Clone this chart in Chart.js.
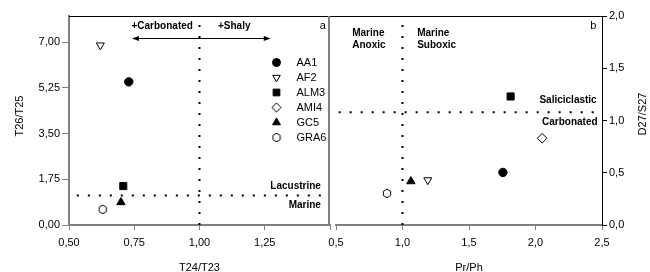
<!DOCTYPE html>
<html><head><meta charset="utf-8">
<script src="https://cdn.jsdelivr.net/npm/chart.js@4/dist/chart.umd.min.js"></script>
<style>
html,body{margin:0;padding:0;background:#fff;}
#wrap{position:relative;width:650px;height:272px;overflow:hidden;background:#fff;}
#c1{position:absolute;left:0;top:0;}
#c2{position:absolute;left:300px;top:0;}
</style></head><body>
<div id="wrap"><canvas id="c1" width="336" height="272"></canvas><canvas id="c2" width="350" height="272"></canvas></div>
<script>
// ---- data ----
const samples = ['AA1', 'AF2', 'ALM3', 'AMI4', 'GC5', 'GRA6'];
// panel a : T24/T23 (x) vs T26/T25 (y); AMI4 not plotted
const t24t23 = [0.729, 0.620, 0.708, null, 0.699, 0.629];
const t26t25 = [5.48, 6.88, 1.49, null, 0.87, 0.60];
// panel b : Pr/Ph (x) vs D27/S27 (y)
const prPh   = [1.755, 1.19, 1.813, 2.05, 1.063, 0.883];
const d27s27 = [0.503, 0.43, 1.23, 0.83, 0.418, 0.303];

const xTicksA = [0.5, 0.75, 1.0, 1.25, 1.5];
const yTicksA = [0, 1.75, 3.5, 5.25, 7.0];
const xTicksB = [0.5, 1.0, 1.5, 2.0, 2.5];
const yTicksB = [0, 0.5, 1.0, 1.5, 2.0];

// threshold lines
const limitA = { x: 1.0, y: 1.13 };
const limitB = { x: 1.0, y: 1.08 };
// arrow in panel a: from, to, level
const arrowA = [0.741, 1.273, 7.14];

// ---- styles ----
const FONT = "'Liberation Sans', Arial, sans-serif";
function hexImg() {
  const c = document.createElement('canvas');
  c.width = 10; c.height = 11;
  const g = c.getContext('2d');
  g.fillStyle = '#fff'; g.strokeStyle = '#000'; g.lineWidth = 1;
  g.beginPath();
  for (let i = 0; i < 6; i++) {
    const a = Math.PI / 3 * i;
    const px = 5 + Math.sin(a) * 4.2, py = 5.5 - Math.cos(a) * 4.3;
    if (i === 0) g.moveTo(px, py); else g.lineTo(px, py);
  }
  g.closePath(); g.fill(); g.stroke();
  return c;
}
const HEX = hexImg();
const markStyle = {
  AA1:  { pointStyle: 'circle',   radius: 4.2, rotation: 0,   fill: '#000' },
  AF2:  { pointStyle: 'triangle', radius: 4.6, rotation: 180, fill: '#fff' },
  ALM3: { pointStyle: 'rect',     radius: 5,   rotation: 0,   fill: '#000' },
  AMI4: { pointStyle: 'rectRot',  radius: 4.8, rotation: 0,   fill: '#fff' },
  GC5:  { pointStyle: 'triangle', radius: 4.8, rotation: 0,   fill: '#000' },
  GRA6: { pointStyle: HEX,        radius: 5,   rotation: 0,   fill: '#fff' }
};

function pointSets(xs, ys) {
  const out = [];
  samples.forEach((name, i) => {
    if (xs[i] == null || ys[i] == null) return;
    const s = markStyle[name];
    out.push({
      label: name, type: 'scatter', order: 0,
      data: [{ x: xs[i], y: ys[i] }],
      pointStyle: s.pointStyle, pointRadius: s.radius, pointRotation: s.rotation,
      backgroundColor: s.fill, borderColor: '#000', borderWidth: 1
    });
  });
  return out;
}
function dotLine(pts) {
  return {
    label: '_line', type: 'scatter', showLine: true, order: 1,
    data: pts, pointRadius: 0, borderColor: '#000', borderWidth: 2,
    borderDash: [2, 9], fill: false
  };
}

function txt(ctx, s, x, y, align, font) {
  ctx.save();
  ctx.font = font; ctx.fillStyle = '#000';
  ctx.textAlign = align; ctx.textBaseline = 'middle';
  ctx.fillText(s, x, y);
  ctx.restore();
}
function vTitle(ctx, s, x, y) {
  ctx.save();
  ctx.translate(x, y); ctx.rotate(-Math.PI / 2);
  txt(ctx, s, 0, 0, 'center', '11px ' + FONT);
  ctx.restore();
}
function drawMark(ctx, name, x, y) {
  const s = markStyle[name];
  ctx.save();
  ctx.fillStyle = s.fill; ctx.strokeStyle = '#000'; ctx.lineWidth = 1;
  Chart.helpers.drawPoint(ctx, { pointStyle: s.pointStyle, radius: s.radius * 0.95, rotation: s.rotation, borderWidth: 1 }, x, y);
  ctx.restore();
}
const BOLD = 'bold 10px ' + FONT;
const NORM = '11px ' + FONT;

function commonScaleX(min, max, ticksArr, fmt, title) {
  return {
    type: 'linear', min: min, max: max,
    afterBuildTicks: s => { s.ticks = ticksArr.map(v => ({ value: v })); },
    ticks: { callback: fmt, font: { family: FONT, size: 11 }, color: '#000', padding: 6, maxRotation: 0, autoSkip: false },
    grid: { drawOnChartArea: false, drawTicks: true, tickLength: 5, color: '#808080', lineWidth: 1 },
    border: { color: '#808080', width: 2 },
    title: { display: true, text: title, font: { family: FONT, size: 11 }, color: '#000', padding: { top: 0, bottom: -3 } },
    afterFit: s => { s.height = 47; }
  };
}

// ---- panel a ----
const decorA = {
  id: 'decorA',
  afterDraw(chart) {
    const { ctx, chartArea: a, scales: { x, y } } = chart;
    ctx.save();
    // top border
    ctx.strokeStyle = '#000'; ctx.lineWidth = 1;
    ctx.beginPath(); ctx.moveTo(a.left, Math.round(a.top) + 0.5); ctx.lineTo(chart.width, Math.round(a.top) + 0.5); ctx.stroke();
    // separator
    ctx.strokeStyle = '#808080'; ctx.lineWidth = 2;
    ctx.beginPath(); ctx.moveTo(a.right - 1, a.top); ctx.lineTo(a.right - 1, a.bottom); ctx.stroke();
    // arrow
    const x1 = x.getPixelForValue(arrowA[0]), x2 = x.getPixelForValue(arrowA[1]), ay = Math.round(y.getPixelForValue(arrowA[2])) + 0.5;
    ctx.strokeStyle = '#000'; ctx.fillStyle = '#000'; ctx.lineWidth = 1;
    ctx.beginPath(); ctx.moveTo(x1 + 3, ay); ctx.lineTo(x2 - 3, ay); ctx.stroke();
    ctx.beginPath(); ctx.moveTo(x1, ay); ctx.lineTo(x1 + 7, ay - 2.5); ctx.lineTo(x1 + 7, ay + 2.5); ctx.closePath(); ctx.fill();
    ctx.beginPath(); ctx.moveTo(x2, ay); ctx.lineTo(x2 - 7, ay - 2.5); ctx.lineTo(x2 - 7, ay + 2.5); ctx.closePath(); ctx.fill();
    ctx.restore();
    // labels
    txt(ctx, '+Carbonated', x.getPixelForValue(0.857), y.getPixelForValue(7.61), 'center', BOLD);
    txt(ctx, '+Shaly', x.getPixelForValue(1.133), y.getPixelForValue(7.61), 'center', BOLD);
    txt(ctx, 'a', x.getPixelForValue(1.472), y.getPixelForValue(7.61), 'center', NORM);
    txt(ctx, 'Lacustrine', x.getPixelForValue(1.465), y.getPixelForValue(1.50), 'right', BOLD);
    txt(ctx, 'Marine', x.getPixelForValue(1.465), y.getPixelForValue(0.765), 'right', BOLD);
    vTitle(ctx, 'T26/T25', 20, 116);
    // legend
    samples.forEach((name, i) => {
      const ly = a.top + 46.5 + i * 15;
      drawMark(ctx, name, a.left + 207.5, ly);
      txt(ctx, name, a.left + 227.5, ly, 'left', NORM);
    });
  }
};

new Chart(document.getElementById('c1'), {
  type: 'scatter',
  data: {
    datasets: [
      ...pointSets(t24t23, t26t25),
      dotLine([{ x: limitA.x, y: 0 }, { x: limitA.x, y: 8 }]),
      dotLine([{ x: 0.53, y: limitA.y }, { x: 1.5, y: limitA.y }])
    ]
  },
  options: {
    responsive: false, animation: false, events: [],
    layout: { padding: { top: 16, left: 0, right: 0, bottom: 0 } },
    plugins: { legend: { display: false }, tooltip: { enabled: false } },
    scales: {
      x: commonScaleX(0.5, 1.5, xTicksA, v => (v === 1.5 ? '' : v.toFixed(2).replace('.', ',')), 'T24/T23'),
      y: {
        type: 'linear', position: 'left', min: 0, max: 8,
        afterBuildTicks: s => { s.ticks = yTicksA.map(v => ({ value: v })); },
        ticks: { callback: v => v.toFixed(2).replace('.', ','), font: { family: FONT, size: 11 }, color: '#000', padding: 2 },
        grid: { drawOnChartArea: false, drawTicks: true, tickLength: 7, color: '#808080', lineWidth: 1 },
        border: { color: '#808080', width: 2 },
        afterFit: s => { s.width = 69; }
      }
    }
  },
  plugins: [decorA]
});

// ---- panel b ----
const decorB = {
  id: 'decorB',
  afterDraw(chart) {
    const { ctx, chartArea: a, scales: { x, y } } = chart;
    ctx.save();
    ctx.strokeStyle = '#000'; ctx.lineWidth = 1;
    ctx.beginPath(); ctx.moveTo(a.left, Math.round(a.top) + 0.5); ctx.lineTo(a.right, Math.round(a.top) + 0.5); ctx.stroke();
    ctx.restore();
    txt(ctx, 'Marine', x.getPixelForValue(0.622), y.getPixelForValue(1.835), 'left', BOLD);
    txt(ctx, 'Anoxic', x.getPixelForValue(0.622), y.getPixelForValue(1.72), 'left', BOLD);
    txt(ctx, 'Marine', x.getPixelForValue(1.11), y.getPixelForValue(1.835), 'left', BOLD);
    txt(ctx, 'Suboxic', x.getPixelForValue(1.11), y.getPixelForValue(1.72), 'left', BOLD);
    txt(ctx, 'b', x.getPixelForValue(2.434), y.getPixelForValue(1.90), 'center', NORM);
    txt(ctx, 'Saliciclastic', x.getPixelForValue(2.46), y.getPixelForValue(1.195), 'right', BOLD);
    txt(ctx, 'Carbonated', x.getPixelForValue(2.467), y.getPixelForValue(0.984), 'right', BOLD);
    vTitle(ctx, 'D27/S27', 343, 114);
  }
};

new Chart(document.getElementById('c2'), {
  type: 'scatter',
  data: {
    datasets: [
      ...pointSets(prPh, d27s27),
      dotLine([{ x: limitB.x, y: 0 }, { x: limitB.x, y: 2 }]),
      dotLine([{ x: 0.52, y: limitB.y }, { x: 2.5, y: limitB.y }])
    ]
  },
  options: {
    responsive: false, animation: false, events: [],
    layout: { padding: { top: 16, left: 36, right: 0, bottom: 0 } },
    plugins: { legend: { display: false }, tooltip: { enabled: false } },
    scales: {
      x: commonScaleX(0.5, 2.5, xTicksB, v => v.toFixed(1).replace('.', ','), 'Pr/Ph'),
      y: {
        type: 'linear', position: 'right', min: 0, max: 2,
        afterBuildTicks: s => { s.ticks = yTicksB.map(v => ({ value: v })); },
        ticks: { callback: v => v.toFixed(1).replace('.', ','), font: { family: FONT, size: 11 }, color: '#000', padding: 2 },
        grid: { drawOnChartArea: false, drawTicks: true, tickLength: 5, color: '#000', lineWidth: 1 },
        border: { color: '#000', width: 1 },
        afterFit: s => { s.width = 48; }
      }
    }
  },
  plugins: [decorB]
});
</script>
</body></html>
